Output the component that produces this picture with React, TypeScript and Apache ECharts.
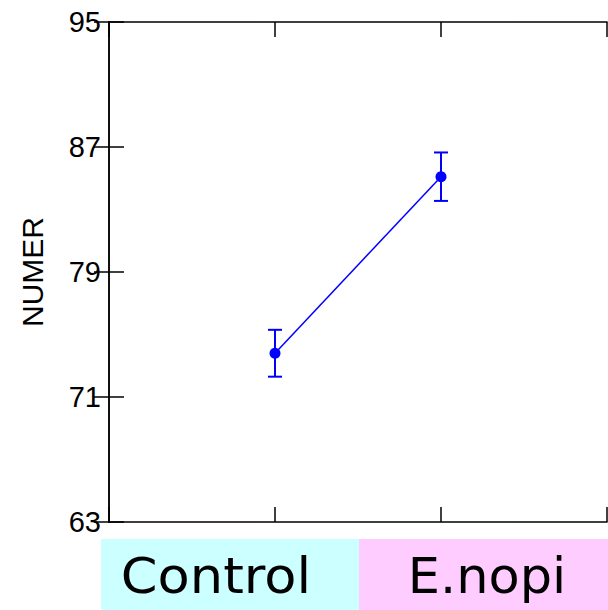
import React, { useEffect, useRef } from "react";
import * as echarts from "echarts";

const categories = ["Control", "E.nopi"];
const xPositions = [1, 2];
const means = [73.8, 85.1];
const errors = [1.5, 1.55];
const yTicks = [63, 71, 79, 87, 95];
const yName = "NUMER";

export default function App() {
  const ref = useRef<HTMLDivElement>(null);
  useEffect(() => {
    if (!ref.current) return;
    const chart = echarts.init(ref.current, undefined, { renderer: "svg" });
    const axisLine = { show: true, lineStyle: { color: "#000", width: 1.5 } };
    const tickStyle = { show: true, inside: true, length: 15, lineStyle: { color: "#000", width: 1.5 } };
    const font = "'Liberation Sans', Arial, sans-serif";
    const lineData = xPositions.map((x, i) => [x, means[i]]);
    const errData = xPositions.map((x, i) => [x, means[i], means[i] - errors[i], means[i] + errors[i]]);
    chart.setOption({
      animation: false,
      backgroundColor: "#fff",
      grid: { left: 109, right: 1, top: 22, bottom: 88, containLabel: false },
      xAxis: [
        {
          type: "value", min: 0, max: 3, interval: 1, position: "bottom",
          axisLine, axisTick: tickStyle, axisLabel: { show: false }, splitLine: { show: false },
        },
        {
          type: "value", min: 0, max: 3, interval: 1, position: "top",
          axisLine, axisTick: tickStyle, axisLabel: { show: false }, splitLine: { show: false },
        },
      ],
      yAxis: [
        {
          type: "value", min: yTicks[0], max: yTicks[yTicks.length - 1], interval: 8, position: "left",
          name: yName, nameLocation: "middle", nameGap: 62, nameRotate: 90,
          nameTextStyle: { fontSize: 30, color: "#000", fontFamily: font },
          axisLine, axisTick: tickStyle,
          axisLabel: { fontSize: 29, color: "#000", fontFamily: font, margin: 8 },
          splitLine: { show: false },
        },
        {
          type: "value", min: yTicks[0], max: yTicks[yTicks.length - 1], interval: 8, position: "right",
          axisLine, axisTick: tickStyle, axisLabel: { show: false }, splitLine: { show: false },
        },
      ],
      graphic: [
        { type: "rect", shape: { x: 101, y: 539, width: 258, height: 71 }, style: { fill: "#ccffff" }, z: 1 },
        { type: "rect", shape: { x: 359, y: 539, width: 249, height: 71 }, style: { fill: "#ffccff" }, z: 1 },
        {
          type: "text", x: 216, y: 576, z: 2, scaleX: 1.075,
          style: { text: categories[0], fontSize: 49, fontFamily: "'DejaVu Sans', sans-serif", fill: "#000", align: "center", verticalAlign: "middle" },
        },
        {
          type: "text", x: 487, y: 576, z: 2, scaleX: 1.04,
          style: { text: categories[1], fontSize: 49, fontFamily: "'DejaVu Sans', sans-serif", fill: "#000", align: "center", verticalAlign: "middle" },
        },
      ],
      series: [
        {
          type: "line", data: lineData, symbol: "circle", symbolSize: 11,
          lineStyle: { color: "#0000ff", width: 1.5 }, itemStyle: { color: "#0000ff" }, z: 3,
        },
        {
          type: "custom", data: errData, z: 2,
          renderItem: (params: any, api: any) => {
            const x = api.value(0);
            const lo = api.coord([x, api.value(2)]);
            const hi = api.coord([x, api.value(3)]);
            const hw = 7;
            const style = { stroke: "#0000ff", lineWidth: 2 };
            return {
              type: "group",
              children: [
                { type: "line", shape: { x1: lo[0], y1: lo[1], x2: hi[0], y2: hi[1] }, style },
                { type: "line", shape: { x1: lo[0] - hw, y1: lo[1], x2: lo[0] + hw, y2: lo[1] }, style },
                { type: "line", shape: { x1: hi[0] - hw, y1: hi[1], x2: hi[0] + hw, y2: hi[1] }, style },
              ],
            };
          },
        },
      ],
    });
    return () => chart.dispose();
  }, []);
  return <div ref={ref} style={{ position: "fixed", left: 0, top: 0, width: 608, height: 610 }} />;
}
